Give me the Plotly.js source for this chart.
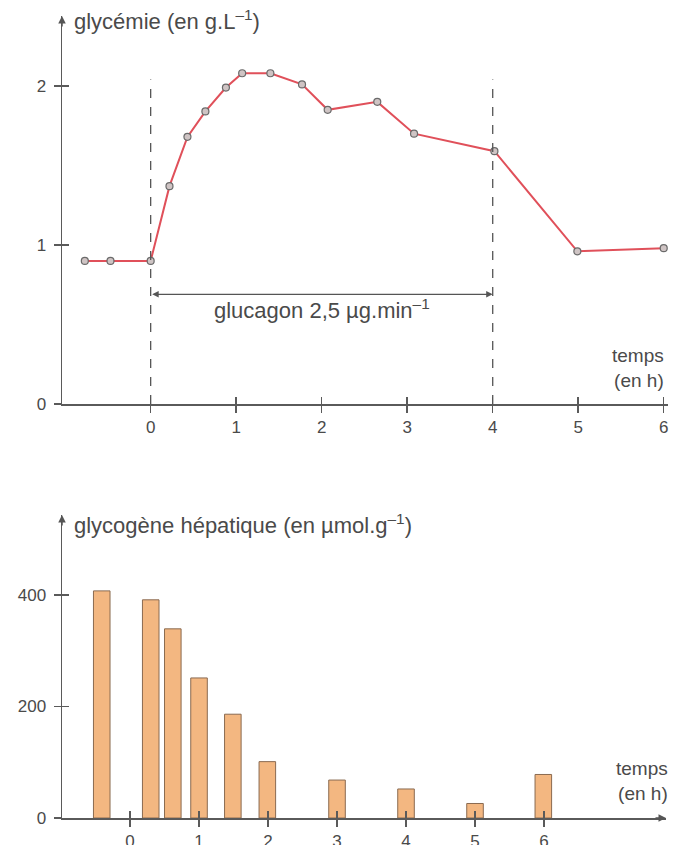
<!DOCTYPE html>
<html><head><meta charset="utf-8">
<script src="https://cdn.plot.ly/plotly-3.0.1.min.js"></script>
<style>html,body{margin:0;padding:0;background:#fff}#c{width:681px;height:845px}</style>
</head><body><div id="c"></div>
<script>
// Glycémie (g/L) vs temps (h)
const glyTime = [-0.77, -0.47, 0, 0.22, 0.43, 0.64, 0.88, 1.07, 1.40, 1.77, 2.07, 2.65, 3.08, 4.02, 4.99, 6.0];
const glyValue = [0.90, 0.90, 0.90, 1.37, 1.68, 1.84, 1.99, 2.08, 2.08, 2.01, 1.85, 1.90, 1.70, 1.59, 0.96, 0.98];
// Glycogène hépatique (µmol/g) vs temps (h)
const glycTime = [-0.41, 0.30, 0.62, 1.0, 1.49, 1.99, 3.0, 4.0, 5.0, 5.99];
const glycValue = [407, 391, 339, 251, 186, 101, 68, 52, 26, 78];
const xTicks = [0, 1, 2, 3, 4, 5, 6];
const glyTicks = [0, 1, 2];
const glycTicks = [0, 200, 400];
const infusionStart = 0, infusionEnd = 4;

const W = 681, H = 845;
const FAM = 'Liberation Sans, Arial, sans-serif';
const TXT = '#4a4a4a';
const font = {family: FAM, color: TXT, size: 17};
const axisCommon = {showline: true, linecolor: '#5a5a5a', linewidth: 1.5, ticks: 'outside', ticklen: 7,
  tickcolor: '#5a5a5a', tickwidth: 1.5, showgrid: false, zeroline: false, fixedrange: true,
  tickfont: {family: FAM, size: 17, color: TXT}};
const innerTicks = {ticks: 'inside', ticklen: 7, tickcolor: '#5a5a5a', tickwidth: 1.5, showline: false,
  showticklabels: false, showgrid: false, zeroline: false, fixedrange: true};

const xTop = [-1.037, 6.05], yTop = [0, 2.44];
const xBot = [-0.986, 7.768], yBot = [0, 543];

const traces = [
  {x: glyTime, y: glyValue, type: 'scatter', mode: 'lines+markers', xaxis: 'x', yaxis: 'y',
   line: {color: '#e0505a', width: 2}, marker: {size: 7, color: '#cfc4c4', line: {color: '#6a6a6a', width: 1.2}},
   hoverinfo: 'skip'},
  {x: glycTime, y: glycValue, type: 'bar', xaxis: 'x2', yaxis: 'y2', width: 0.24,
   marker: {color: '#f3b781', line: {color: '#8a6a50', width: 1}}, hoverinfo: 'skip'},
  // empty traces so the inner-tick overlay axes are drawn
  {x: [], y: [], type: 'scatter', xaxis: 'x3', yaxis: 'y3', hoverinfo: 'skip'},
  {x: [], y: [], type: 'scatter', xaxis: 'x4', yaxis: 'y4', hoverinfo: 'skip'}
];

const layout = {
  width: W, height: H, margin: {l: 0, r: 0, t: 0, b: 0}, showlegend: false,
  paper_bgcolor: '#fff', plot_bgcolor: 'rgba(0,0,0,0)', font: font,
  xaxis: Object.assign({}, axisCommon, {domain: [62/W, 668/W], range: xTop, anchor: 'y', tickvals: xTicks}),
  yaxis: Object.assign({}, axisCommon, {domain: [(H-404)/H, (H-16)/H], range: yTop, anchor: 'x',
    tickvals: glyTicks, ticklabelstandoff: 4}),
  xaxis2: Object.assign({}, axisCommon, {domain: [62/W, 666/W], range: xBot, anchor: 'y2', tickvals: xTicks}),
  yaxis2: Object.assign({}, axisCommon, {domain: [(H-818)/H, (H-515)/H], range: yBot, anchor: 'x2',
    tickvals: glycTicks, ticklabelstandoff: 4}),
  xaxis3: Object.assign({}, innerTicks, {overlaying: 'x', anchor: 'y3', side: 'bottom', range: xTop, tickvals: xTicks}),
  yaxis3: Object.assign({}, innerTicks, {overlaying: 'y', anchor: 'x3', side: 'left', range: yTop, tickvals: glyTicks}),
  xaxis4: Object.assign({}, innerTicks, {overlaying: 'x2', anchor: 'y4', side: 'bottom', range: xBot, tickvals: xTicks}),
  yaxis4: Object.assign({}, innerTicks, {overlaying: 'y2', anchor: 'x4', side: 'left', range: yBot, tickvals: glycTicks}),
  shapes: [
    {type: 'line', xref: 'x', yref: 'y', x0: infusionStart, x1: infusionStart, y0: 0, y1: 2.04,
     line: {color: '#555', width: 1.3, dash: 'dash'}},
    {type: 'line', xref: 'x', yref: 'y', x0: infusionEnd, x1: infusionEnd, y0: 0, y1: 2.04,
     line: {color: '#555', width: 1.3, dash: 'dash'}}
  ],
  annotations: [
    {xref: 'x', yref: 'y', x: infusionEnd, y: 0.69, ax: infusionStart, ay: 0.69, axref: 'x', ayref: 'y',
     showarrow: true, arrowhead: 2, arrowside: 'end+start', arrowsize: 1, arrowwidth: 1.3, arrowcolor: '#555', text: ''},
    {xref: 'x', yref: 'y', x: 2.0, y: 0.60, text: 'glucagon 2,5 µg.min<sup>–1</sup>', showarrow: false,
     font: {family: FAM, size: 22, color: TXT}},
    {xref: 'x domain', yref: 'y domain', x: 0, y: 1, ax: 0, ay: 12, showarrow: true, arrowhead: 2,
     arrowsize: 1, arrowwidth: 1.5, arrowcolor: '#555', text: ''},
    {xref: 'x2 domain', yref: 'y2 domain', x: 0, y: 1, ax: 0, ay: 12, showarrow: true, arrowhead: 2,
     arrowsize: 1, arrowwidth: 1.5, arrowcolor: '#555', text: ''},
    {xref: 'x2 domain', yref: 'y2 domain', x: 1, y: 0, ax: -12, ay: 0, showarrow: true, arrowhead: 2,
     arrowsize: 1, arrowwidth: 1.5, arrowcolor: '#555', text: ''},
    {xref: 'paper', yref: 'paper', x: 72/W, y: (H-20)/H, xanchor: 'left', yanchor: 'middle', showarrow: false,
     text: 'glycémie (en g.L<sup>–1</sup>)', font: {family: FAM, size: 22, color: TXT}},
    {xref: 'paper', yref: 'paper', x: 72/W, y: (H-524)/H, xanchor: 'left', yanchor: 'middle', showarrow: false,
     text: 'glycogène hépatique (en µmol.g<sup>–1</sup>)', font: {family: FAM, size: 22, color: TXT}},
    {xref: 'paper', yref: 'paper', x: 666/W, y: (H-368)/H, xanchor: 'right', yanchor: 'middle', showarrow: false,
     align: 'right', text: 'temps<br>(en h)', font: {family: FAM, size: 19, color: TXT}},
    {xref: 'paper', yref: 'paper', x: 670/W, y: (H-781)/H, xanchor: 'right', yanchor: 'middle', showarrow: false,
     align: 'right', text: 'temps<br>(en h)', font: {family: FAM, size: 19, color: TXT}}
  ]
};
Plotly.newPlot('c', traces, layout, {staticPlot: true});
</script></body></html>
